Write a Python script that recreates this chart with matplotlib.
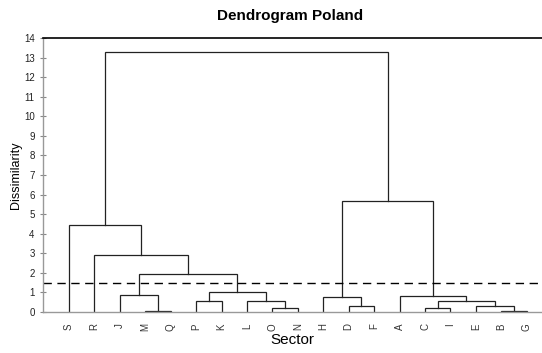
import matplotlib
matplotlib.use("Agg")
import matplotlib.pyplot as plt

plt.rcParams["font.family"] = ["Liberation Sans", "DejaVu Sans"]

# leaf order
leaves = ["S", "R", "J", "M", "Q", "P", "K", "L", "O", "N",
          "H", "D", "F", "A", "C", "I", "E", "B", "G"]

# merges: (new cluster, left child, right child, dissimilarity)
merges = [
    ("MQ", "M", "Q", 0.07),
    ("JMQ", "J", "MQ", 0.87),
    ("PK", "P", "K", 0.56),
    ("ON", "O", "N", 0.23),
    ("LON", "L", "ON", 0.58),
    ("PKLON", "PK", "LON", 1.02),
    ("JQN", "JMQ", "PKLON", 1.94),
    ("RN", "R", "JQN", 2.91),
    ("SN", "S", "RN", 4.46),
    ("DF", "D", "F", 0.32),
    ("HDF", "H", "DF", 0.78),
    ("CI", "C", "I", 0.19),
    ("BG", "B", "G", 0.05),
    ("EBG", "E", "BG", 0.32),
    ("CG", "CI", "EBG", 0.58),
    ("AG", "A", "CG", 0.82),
    ("HG", "HDF", "AG", 5.67),
    ("ALL", "SN", "HG", 13.30),
]
cut_level = 1.46

pos = {name: i for i, name in enumerate(leaves)}
height = {name: 0.0 for name in leaves}

fig = plt.figure(figsize=(5.42, 3.53), dpi=100)
ax = fig.add_axes([0.0793, 0.1161, 0.9207, 0.7763])

line_color = "#222222"
for name, a, b, h in merges:
    xa, xb = pos[a], pos[b]
    ax.plot([xa, xa, xb, xb], [height[a], h, h, height[b]],
            color=line_color, lw=0.9, solid_joinstyle="miter")
    pos[name] = (xa + xb) / 2
    height[name] = h

ax.axhline(cut_level, color="black", lw=1.0, ls=(0, (6, 4)))

ax.set_xlim(-1.02, 18.6)
ax.set_ylim(0, 14)
ax.set_yticks(range(0, 15))
ax.set_xticks(range(len(leaves)))
ax.set_xticklabels(leaves, rotation=90, fontsize=7, color="#333333")
ax.tick_params(axis="x", length=0, pad=8)
ax.tick_params(axis="y", direction="inout", length=5, width=0.8,
               colors="#888888", labelcolor="#222222", labelsize=7)

for side in ["left", "bottom"]:
    ax.spines[side].set_color("#999999")
    ax.spines[side].set_linewidth(1.0)
ax.spines["right"].set_visible(False)
ax.spines["top"].set_color("black")
ax.spines["top"].set_linewidth(1.2)

ax.set_ylabel("Dissimilarity", fontsize=9)
ax.yaxis.set_label_coords(-0.042, 0.5)
ax.set_xlabel("Sector", fontsize=11)
ax.xaxis.set_label_coords(0.5, -0.077)
fig.suptitle("Dendrogram Poland", x=0.535, y=0.975, fontsize=11,
             fontweight="bold")

fig.savefig("out.png", dpi=100)
